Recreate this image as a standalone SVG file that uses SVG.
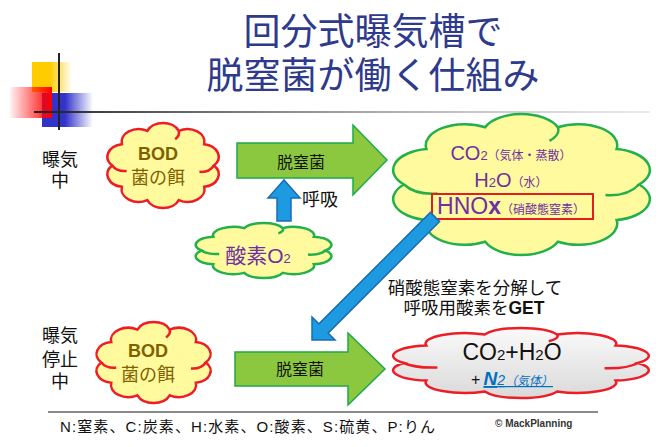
<svg xmlns="http://www.w3.org/2000/svg" width="666" height="447" viewBox="0 0 666 447">
<defs>
<style>
text { font-family: "Liberation Sans", "Noto Sans CJK JP", sans-serif; }
.title { font-size: 37px; fill: #2E3A8C; text-anchor: middle; }
.lbl { font-size: 18px; fill: #111; text-anchor: middle; }
.bod { fill: #7F6000; text-anchor: middle; font-size: 18px; }
.pur { fill: #7030A0; text-anchor: middle; }
.ylw { fill: #FFFA9E; stroke: #22B04A; stroke-width: 2.5; }
.ylwr { fill: #FFFA9E; stroke: #EE1C25; stroke-width: 2.5; }
.gry { fill: url(#gGray); stroke: #EE1C25; stroke-width: 2.5; }
.garrow { fill: #8CC83F; stroke: #1FA84A; stroke-width: 1.5; }
.barrow { fill: #1E9BE0; stroke: #1A6DB5; stroke-width: 1.5; }
.cl { vector-effect: non-scaling-stroke; }
</style>
<linearGradient id="gGray" x1="0" y1="0" x2="0" y2="1"><stop offset="0" stop-color="#FAFAFA"/><stop offset="1" stop-color="#D9D9D9"/></linearGradient>
<linearGradient id="gY" x1="0" y1="0" x2="1" y2="0"><stop offset="0.45" stop-color="#FFCC00"/><stop offset="1" stop-color="#FFCC00" stop-opacity="0"/></linearGradient>
<linearGradient id="gR" x1="0" y1="0" x2="1" y2="0"><stop offset="0" stop-color="#FF0000" stop-opacity="0.05"/><stop offset="1" stop-color="#FF0000"/></linearGradient>
<linearGradient id="gB" x1="0" y1="0" x2="1" y2="0"><stop offset="0.45" stop-color="#3333CC"/><stop offset="1" stop-color="#3333CC" stop-opacity="0"/></linearGradient>
<linearGradient id="gL" x1="0" y1="0" x2="1" y2="0"><stop offset="0" stop-color="#222"/><stop offset="1" stop-color="#cccccc" stop-opacity="0.4"/></linearGradient>
<g id="cloud">
<path class="cl" d="M37.02,11.96 A14,14 0 0 1 62.98,11.96 A14,14 0 0 1 83.98,26.49 A14,14 0 0 1 92,50 A14,14 0 0 1 83.98,73.51 A14,14 0 0 1 62.98,88.04 A14,14 0 0 1 37.02,88.04 A14,14 0 0 1 16.02,73.51 A14,14 0 0 1 8,50 A14,14 0 0 1 16.02,26.49 A14,14 0 0 1 37.02,11.96 Z"/>
<path class="cl" fill="none" d="M8,50 Q12,57 20,56 M92,50 Q88,58 80,57 M62.98,11.96 Q64,17 60,21"/>
</g>
</defs>

<g id="decoration">
<rect x="32" y="62" width="40" height="30" fill="url(#gY)"/>
<rect x="42" y="93" width="51" height="34" fill="url(#gB)"/>
<rect x="10" y="87" width="42" height="31" fill="url(#gR)"/>
<rect x="58" y="53" width="2" height="77" fill="#222"/>
<rect x="34" y="111" width="616" height="2" fill="url(#gL)"/>
<rect x="48" y="411" width="550" height="2" fill="#8a8a8a"/>
</g>

<g id="title">
<text class="title" x="373" y="45">回分式曝気槽で</text>
<text class="title" x="373" y="89">脱窒菌が働く仕組み</text>
</g>

<g id="label-aeration">
<text class="lbl" x="60" y="166">曝気</text>
<text class="lbl" x="60" y="187">中</text>
</g>
<g id="label-stop">
<text class="lbl" x="60" y="342">曝気</text>
<text class="lbl" x="60" y="366">停止</text>
<text class="lbl" x="60" y="388">中</text>
</g>

<g id="bod-top">
<use href="#cloud" class="ylwr" transform="translate(102.4,120.1) scale(1.213,0.908)"/>
<text class="bod" x="158" y="160" font-weight="bold">BOD</text>
<text class="bod" x="158" y="184">菌の餌</text>
</g>

<g id="oxygen">
<use href="#cloud" class="ylw" transform="translate(189.6,221.1) scale(1.479,0.588)"/>
<text class="pur" x="258" y="263" font-size="21">酸素O<tspan font-size="13">2</tspan></text>
</g>

<g id="products">
<use href="#cloud" class="ylw" transform="translate(381.6,109.2) scale(2.798,1.506)"/>
<text class="pur" x="511" y="160"><tspan font-size="20">CO</tspan><tspan font-size="13">2</tspan><tspan font-size="12">（気体・蒸散）</tspan></text>
<text class="pur" x="511" y="187"><tspan font-size="20">H</tspan><tspan font-size="13">2</tspan><tspan font-size="20">O</tspan><tspan font-size="12">（水）</tspan></text>
<text class="pur" x="511" y="214"><tspan font-size="23">HNO</tspan><tspan font-size="23" font-weight="bold">x</tspan><tspan font-size="12">（硝酸態窒素）</tspan></text>
<rect x="432" y="194" width="161" height="25" fill="none" stroke="#E02020" stroke-width="2"/>
</g>

<g id="bod-bottom">
<use href="#cloud" class="ylwr" transform="translate(91.3,319.2) scale(1.245,0.865)"/>
<text class="bod" x="148" y="357" font-weight="bold">BOD</text>
<text class="bod" x="148" y="381">菌の餌</text>
</g>

<g id="result">
<use href="#cloud" class="gry" transform="translate(381.6,325.6) scale(2.787,0.748)"/>
<text x="512" y="360" font-size="23" fill="#111" text-anchor="middle">CO<tspan font-size="15">2</tspan>+H<tspan font-size="15">2</tspan>O</text>
<text x="512" y="385" text-anchor="middle"><tspan font-size="16" fill="#111">+</tspan><tspan dx="3" fill="#0070C0" font-style="italic" text-decoration="underline"><tspan font-size="19" font-weight="bold">N</tspan><tspan font-size="14">2</tspan><tspan font-size="12">（気体）</tspan></tspan></text>
</g>

<g id="connectors">
<path class="garrow" d="M237,143 H353 V125 L387,160 L353,195 V178 H237 Z"/>
<path class="garrow" d="M235,352 H348 V333 L385,369 L348,405 V386 H235 Z"/>
<path class="barrow" d="M277,221 V198 H268 L284,180 L300,198 H291 V221 Z"/>
<polygon class="barrow" points="430.4,212.4 439.6,221.6 328.1,333.1 335,340 312,340 312,317 318.9,323.9"/>
<text x="301" y="168" font-size="16" fill="#111" text-anchor="middle">脱窒菌</text>
<text x="300" y="375" font-size="16" fill="#111" text-anchor="middle">脱窒菌</text>
<text x="302" y="206" font-size="18" fill="#111">呼吸</text>
<text x="475" y="294" font-size="17.5" fill="#111" text-anchor="middle">硝酸態窒素を分解して</text>
<text x="474" y="314" font-size="17.5" fill="#111" text-anchor="middle">呼吸用酸素を<tspan font-weight="bold">GET</tspan></text>
</g>

<g id="footer">
<text x="60" y="432" font-size="15" fill="#111" textLength="375" lengthAdjust="spacing">N:窒素、C:炭素、H:水素、O:酸素、S:硫黄、P:りん</text>
<text x="495" y="427" font-size="10" font-weight="bold" fill="#333">© MackPlanning</text>
</g>
</svg>
